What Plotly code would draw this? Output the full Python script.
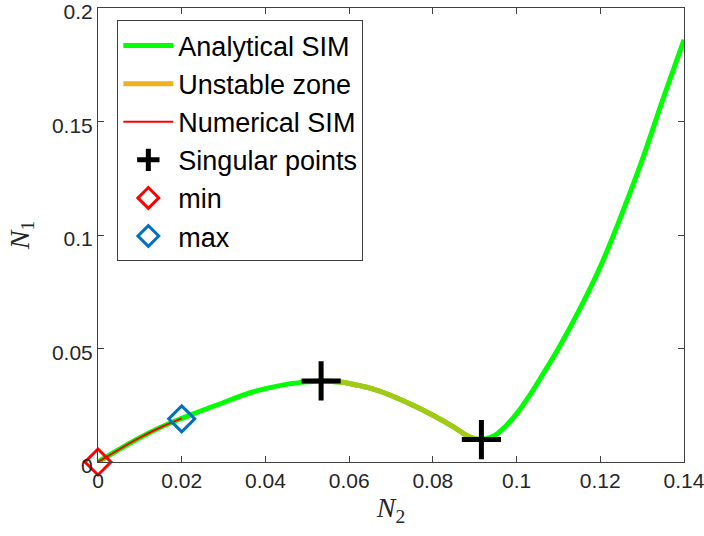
import plotly.graph_objects as go

# Analytical SIM (N2, N1)
sim_n2 = [0.000, 0.005, 0.010, 0.015, 0.020, 0.025, 0.030, 0.035, 0.040, 0.045, 0.050, 0.0533,
          0.0578, 0.060, 0.065, 0.070, 0.075, 0.080, 0.085, 0.088, 0.090, 0.0916,
          0.093, 0.095, 0.0975, 0.100, 0.103, 0.106, 0.110, 0.115, 0.120, 0.125, 0.130,
          0.135, 0.140]
sim_n1 = [0.0000, 0.0055, 0.0107, 0.0153, 0.0192, 0.0228, 0.0262, 0.0297, 0.0323, 0.0342, 0.0353, 0.0357,
          0.0352, 0.0346, 0.0325, 0.0293, 0.0252, 0.0206, 0.0154, 0.0118, 0.0103, 0.0099,
          0.0104, 0.0120, 0.0160, 0.0212, 0.0290, 0.0378, 0.0500, 0.0670, 0.0860, 0.1085, 0.1330,
          0.1600, 0.1860]

# Unstable zone (between the singular points)
uns_n2 = [0.0533, 0.0578, 0.060, 0.065, 0.070, 0.075, 0.080, 0.085, 0.088, 0.090, 0.0916]
uns_n1 = [0.0357, 0.0352, 0.0346, 0.0325, 0.0293, 0.0252, 0.0206, 0.0154, 0.0118, 0.0103, 0.0099]

# Numerical SIM
num_n2 = [0.000, 0.005, 0.010, 0.015, 0.020]
num_n1 = [0.0000, 0.0055, 0.0107, 0.0153, 0.0192]

# Singular points, min, max
sing_n2 = [0.0533, 0.0916]
sing_n1 = [0.0357, 0.0099]
min_n2 = [0.0]
min_n1 = [0.0]
max_n2 = [0.020]
max_n1 = [0.0190]

x_ticks = [0, 0.02, 0.04, 0.06, 0.08, 0.1, 0.12, 0.14]
x_labels = ["0", "0.02", "0.04", "0.06", "0.08", "0.1", "0.12", "0.14"]
y_ticks = [0, 0.05, 0.1, 0.15, 0.2]
y_labels = ["0", "0.05", "0.1", "0.15", "0.2"]

fig = go.Figure()
fig.add_trace(go.Scatter(x=sim_n2, y=sim_n1, mode="lines", name="Analytical SIM",
                         line=dict(color="#00FF00", width=5, shape="spline", smoothing=1.0)))
fig.add_trace(go.Scatter(x=uns_n2, y=uns_n1, mode="lines", name="Unstable zone",
                         line=dict(color="#EDB120", width=5, shape="spline", smoothing=1.0)))
fig.add_trace(go.Scatter(x=uns_n2, y=uns_n1, mode="lines", showlegend=False, hoverinfo="skip",
                         line=dict(color="rgba(0,255,0,0.3)", width=5, shape="spline", smoothing=1.0)))
fig.add_trace(go.Scatter(x=num_n2, y=num_n1, mode="lines", name="Numerical SIM",
                         line=dict(color="#FF0000", width=2, shape="spline", smoothing=1.0)))
fig.add_trace(go.Scatter(x=sing_n2, y=sing_n1, mode="markers", name="Singular points", cliponaxis=False,
                         marker=dict(symbol="cross-thin", size=28, color="black",
                                     line=dict(color="black", width=5))))
fig.add_trace(go.Scatter(x=min_n2, y=min_n1, mode="markers", name="min", cliponaxis=False,
                         marker=dict(symbol="diamond-open", size=20, color="#FF0000",
                                     line=dict(color="#FF0000", width=3))))
fig.add_trace(go.Scatter(x=max_n2, y=max_n1, mode="markers", name="max", cliponaxis=False,
                         marker=dict(symbol="diamond-open", size=20, color="#0072BD",
                                     line=dict(color="#0072BD", width=3))))

axis_common = dict(showgrid=False, zeroline=False, showline=True, linecolor="#404040",
                   linewidth=1, mirror="ticks", ticks="inside", ticklen=6, tickcolor="#404040",
                   ticklabeloverflow="allow", automargin=False,
                   tickfont=dict(family="Liberation Sans, Arial", size=21, color="#262626"))

fig.update_layout(
    width=704, height=536,
    margin=dict(l=98, r=20, t=8, b=74),
    plot_bgcolor="white", paper_bgcolor="white",
    xaxis=dict(range=[-0.0000001, 0.1400001], tickvals=x_ticks, ticktext=x_labels,
               title=dict(text="<i>N</i><sub>2</sub>", standoff=6,
                          font=dict(family="Liberation Serif, DejaVu Serif", size=28, color="#262626")),
               **axis_common),
    yaxis=dict(range=[-0.0000001, 0.2000001], tickvals=y_ticks, ticktext=y_labels,
               ticklabelshift=4,
               title=dict(text="<i>N</i><sub>1</sub>", standoff=14,
                          font=dict(family="Liberation Serif, DejaVu Serif", size=28, color="#262626")),
               **axis_common),
    legend=dict(x=0.033, y=0.9725, xanchor="left", yanchor="top",
                bgcolor="white", bordercolor="#404040", borderwidth=1,
                font=dict(family="Liberation Sans, Arial", size=27, color="black"),
                itemwidth=50, tracegroupgap=0),
    showlegend=True,
)

fig.write_html("out.html", config={"displayModeBar": False},
               post_script="document.body.style.margin='0';document.body.style.overflow='hidden';")
